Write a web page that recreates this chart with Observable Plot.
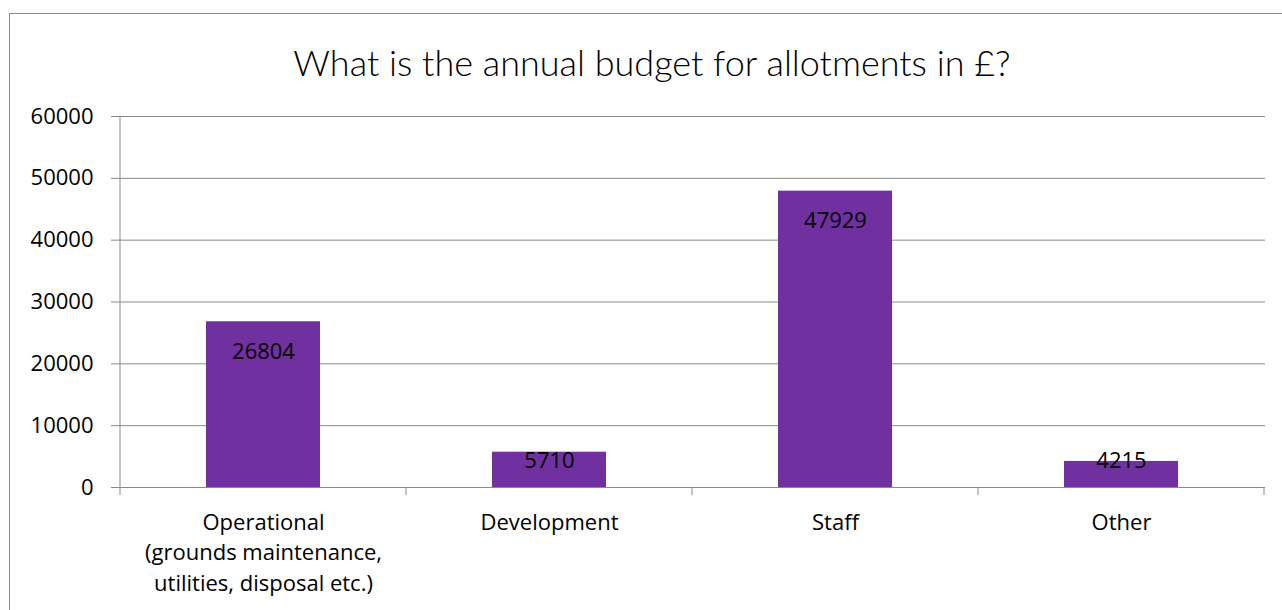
<!DOCTYPE html>
<html>
<head>
<meta charset="utf-8">
<script src="https://cdn.jsdelivr.net/npm/d3@7"></script>
<script src="https://cdn.jsdelivr.net/npm/@observablehq/plot@0.6"></script>
<style>
  html, body { margin: 0; padding: 0; background: #fff; overflow: hidden; width: 1282px; height: 610px; }
  #frame { position: absolute; left: 9px; top: 13px; width: 1400px; height: 800px; border: 1px solid #898989; box-sizing: border-box; }
  #title { position: absolute; left: 22px; top: 37px; width: 1260px; text-align: center; font-family: Lato, "Open Sans", sans-serif; font-weight: 300; font-size: 36px; line-height: 50px; color: #000; }
  #chart { position: absolute; left: 0; top: 100px; }
</style>
</head>
<body>
<div id="frame"></div>
<div id="title">What is the annual budget for allotments in £?</div>
<div id="chart"></div>
<script>
const categories = [
  "Operational\n(grounds maintenance,\nutilities, disposal etc.)",
  "Development",
  "Staff",
  "Other"
];
const values = [26804, 5710, 47929, 4215];
const yTicks = [0, 10000, 20000, 30000, 40000, 50000, 60000];

// Excel keeps short bars' "inside end" labels from dropping toward the axis
const LABEL_FLOOR = 9200;
const GRID = "#898989";
const FONT = "'Open Sans', Lato, sans-serif";

const data = categories.map((c, i) => ({category: c, value: values[i]}));

const plot = Plot.plot({
  width: 1282,
  height: 510,
  marginLeft: 119,
  marginRight: 17,
  marginTop: 16,
  marginBottom: 123,
  style: {fontFamily: FONT, fontSize: "22px", color: "#000", background: "transparent", overflow: "visible"},
  x: {domain: categories, paddingInner: 0.6, paddingOuter: 0.3, label: null},
  y: {domain: [0, 60000], label: null},
  marks: [
    Plot.gridY(yTicks, {stroke: GRID, strokeOpacity: 1}),
    Plot.axisY(yTicks, {tickSize: 8, tickPadding: 18, stroke: GRID, strokeOpacity: 1, fontSize: 22, tickFormat: d3.format("d"), label: null}),
    Plot.barY(data, {x: "category", y: "value", fill: "#7030A0"}),
    Plot.ruleY([0], {stroke: GRID}),
    Plot.axisX({tickSize: 0, tickPadding: 21, lineHeight: 1.38, fontSize: 22, label: null}),
    Plot.text(data, {x: "category", y: d => Math.max(d.value, LABEL_FLOOR), dy: 30, text: d => String(d.value), fontSize: 22, fill: "#000"})
  ]
});

// y-axis line and category boundary ticks (Excel style)
const xs = plot.scale("x");
const ys = plot.scale("y");
const y0 = ys.apply(0), yTop = ys.apply(60000);
const edges = categories.map(c => xs.apply(c) - (xs.step - xs.bandwidth) / 2);
edges.push(edges[edges.length - 1] + xs.step);
const g = d3.select(plot).append("g").attr("stroke", GRID).attr("stroke-width", 1);
g.append("line").attr("x1", edges[0]).attr("x2", edges[0]).attr("y1", yTop).attr("y2", y0 + 8);
edges.slice(1).forEach(e => g.append("line").attr("x1", e).attr("x2", e).attr("y1", y0).attr("y2", y0 + 8));

document.getElementById("chart").appendChild(plot);
</script>
</body>
</html>
